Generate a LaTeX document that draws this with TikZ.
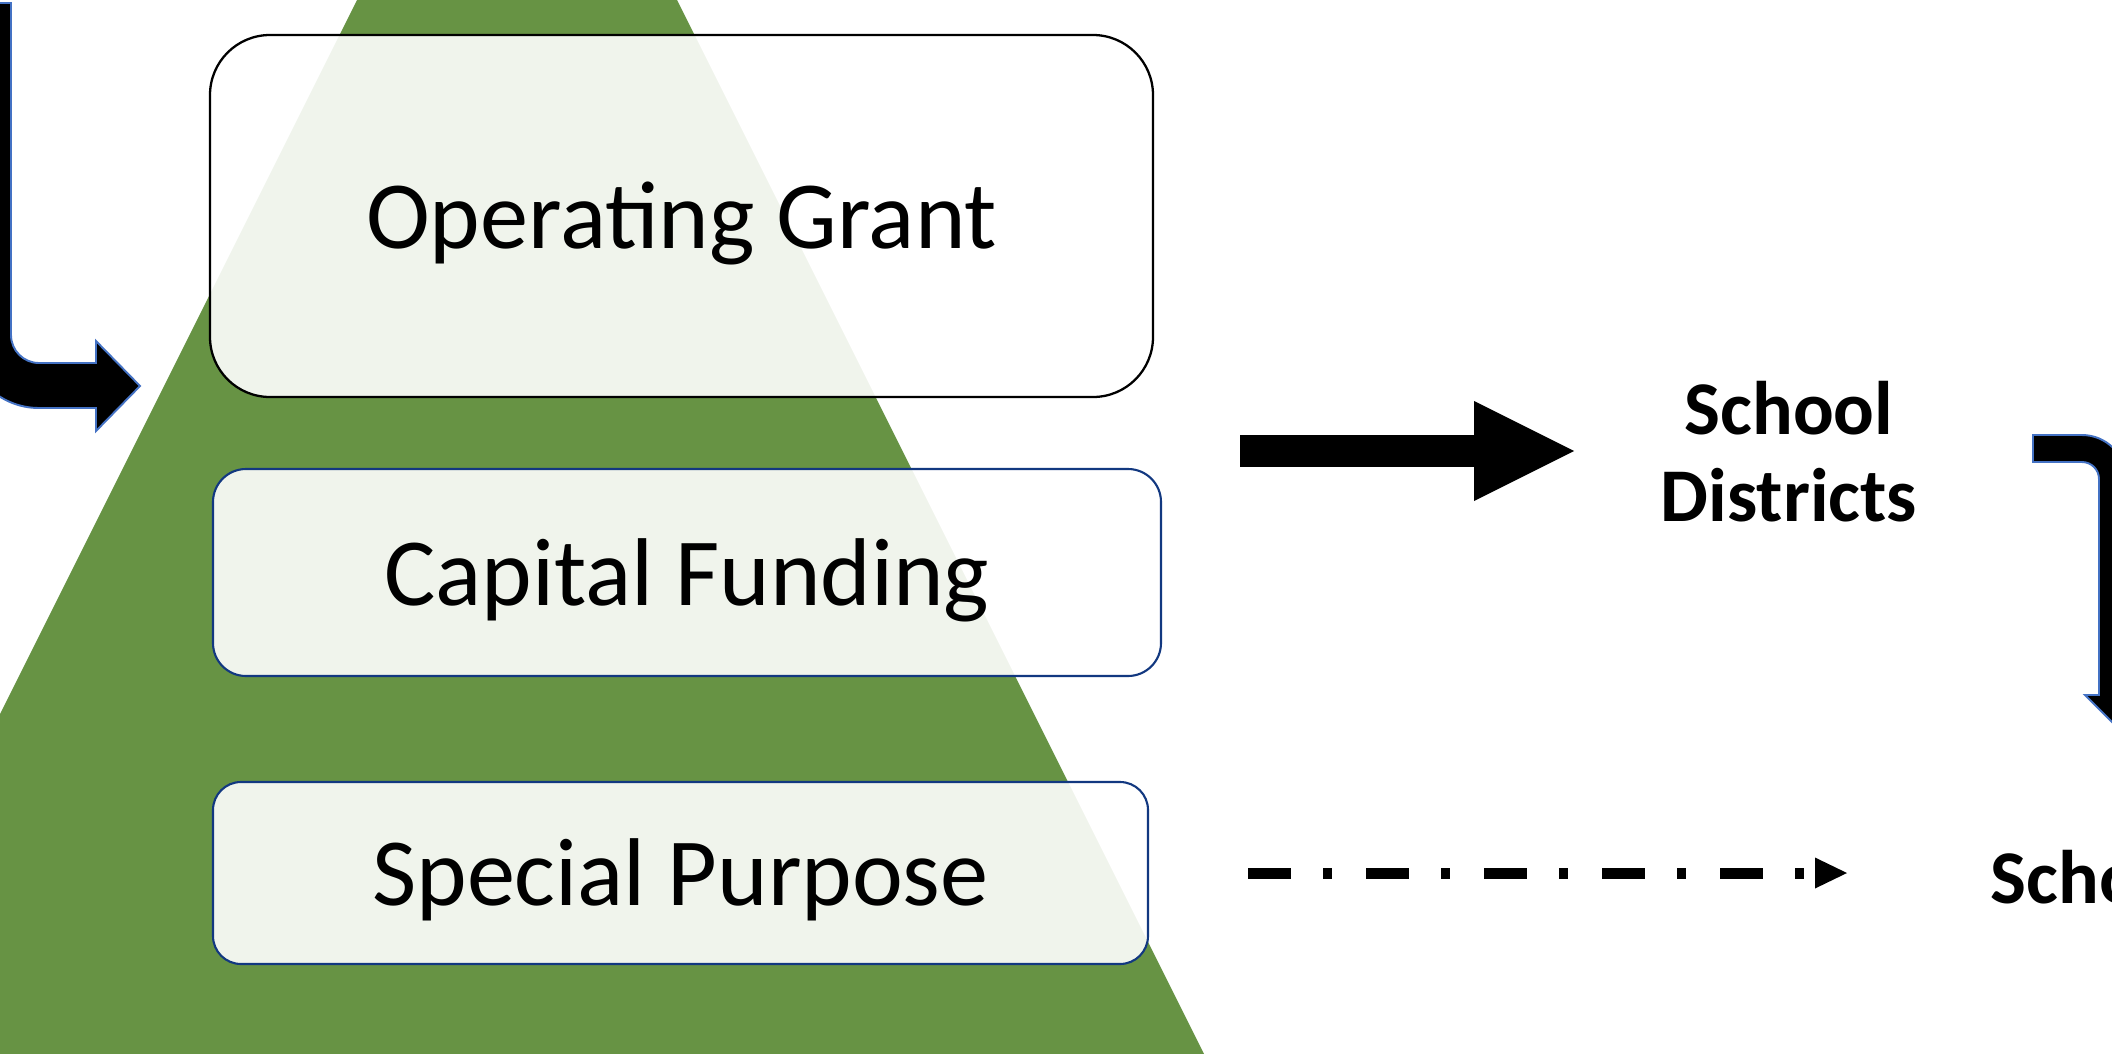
\documentclass[tikz,border=0pt]{standalone}
\usepackage{fontspec}
\setmainfont{Carlito}
\usepackage{xcolor}
\usepackage{tikz}
\usetikzlibrary{arrows.meta,positioning}
\definecolor{fundgreen}{RGB}{103,147,68}
\definecolor{fundnavy}{RGB}{18,56,128}
\definecolor{bentblue}{RGB}{68,114,196}

\begin{document}
\begin{tikzpicture}[
  fundbox/.style={draw=fundnavy, line width=0.6pt, fill=white, fill opacity=0.9, text opacity=1,
    inner sep=0pt, font=\fontsize{27.4}{32}\selectfont, text height=18.6pt, text depth=0pt},
  target/.style={font=\fontsize{21.6}{24.8}\selectfont\bfseries, align=center, inner sep=0pt},
  bent/.style={fill=black, draw=bentblue, line width=0.55pt}
]
\useasboundingbox (0,0) rectangle (21.12,-10.53);
\clip (0,0) rectangle (21.12,-10.53);
% pyramid in the back
\fill[fundgreen] (5.17,3.20) -- (-2.00,-11.14) -- (12.34,-11.14) -- cycle;
% the three funding boxes
\node[fundbox, draw=black, line width=0.65pt, rounded corners=0.60cm, minimum width=9.43cm, minimum height=3.62cm] (og) at (6.815,-2.16) {Operating Grant};
\node[fundbox, rounded corners=0.33cm, minimum width=9.48cm, minimum height=2.07cm] (cf) at (6.87,-5.725) {Capital Funding};
\node[fundbox, rounded corners=0.28cm, minimum width=9.35cm, minimum height=1.82cm] (sp) at (6.805,-8.73) {Special Purpose};
% who gets the money
\node[target] (sd) at (17.89,-4.52) {School\\Districts};
\node[target, anchor=base west] (sc) at (19.90,-9.03) {Scho};
% flows
\coordinate (feed) at (12.40,-4.51);
\draw[line width=0.32cm, shorten >=0.86cm, -{Triangle[length=1.00cm,width=1.00cm,line width=0pt]}] (feed) -- (sd.west |- feed);
\coordinate (spEnd) at (18.47,-8.73);
\draw[line width=0.11cm, dash pattern=on 0.43cm off 0.32cm on 0.09cm off 0.34cm,
  -{Triangle[length=0.32cm,width=0.31cm,line width=0pt]}] ([xshift=0.99cm]sp.east) -- (spEnd);
% bent arrow coming in on the left
\draw[bent] (-0.34,-0.03) -- (0.11,-0.03) -- (0.11,-3.35) arc (180:270:0.28) -- (0.96,-3.63)
  -- (0.96,-3.41) -- (1.40,-3.86) -- (0.96,-4.31) -- (0.96,-4.08) -- (0.39,-4.08) arc (270:180:0.73) -- cycle;
% bent arrow going down on the right
\draw[bent] (20.33,-4.35) -- (20.82,-4.35) arc (90:0:0.44) -- (21.26,-6.95) -- (21.40,-6.95)
  -- (21.125,-7.225) -- (20.85,-6.95) -- (20.99,-6.95) -- (20.99,-4.79) arc (0:90:0.17) -- (20.33,-4.62) -- cycle;
\end{tikzpicture}
\end{document}
